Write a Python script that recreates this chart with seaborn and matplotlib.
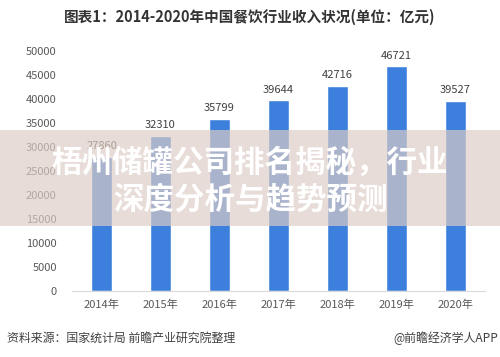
import matplotlib
matplotlib.use('Agg')
import matplotlib.pyplot as plt
from matplotlib.patches import Rectangle
import seaborn as sns

# data
years = ['2014年', '2015年', '2016年', '2017年', '2018年', '2019年', '2020年']
revenue = [27860, 32310, 35799, 39644, 42716, 46721, 39527]
yticks = [0, 5000, 10000, 15000, 20000, 25000, 30000, 35000, 40000, 45000, 50000]

title = '图表1：2014-2020年中国餐饮行业收入状况(单位：亿元)'
source = '资料来源：国家统计局 前瞻产业研究院整理'
credit = '@前瞻经济学人APP'
banner = ['梧州储罐公司排名揭秘，行业', '深度分析与趋势预测']

sns.set_style('white')
plt.rcParams['font.family'] = ['Noto Sans CJK SC', 'DejaVu Sans']

fig = plt.figure(figsize=(5, 3.57), dpi=100)
ax = fig.add_axes([0.144, 0.185, 0.826, 0.6735])

sns.barplot(x=years, y=revenue, color='#3d7fdc', saturation=1, width=0.34, ax=ax)
ax.bar_label(ax.containers[0], padding=4, fontsize=8, color='#404040')

ax.set_ylim(0, 50000)
ax.set_yticks(yticks)
ax.set_yticklabels([str(v) for v in yticks])
ax.set_xlim(-0.5, 6.5)
ax.tick_params(axis='both', length=0, labelsize=8, colors='#595959')
ax.tick_params(axis='y', pad=11)
ax.tick_params(axis='x', pad=6)
ax.set_xlabel('')
ax.set_ylabel('')
for s in ['top', 'right', 'left']:
    ax.spines[s].set_visible(False)
ax.spines['bottom'].set_color('#d9d9d9')

fig.text(0.5, 1 - 17 / 357, title, ha='center', va='center', fontsize=10.5,
         fontweight='bold', color='#333333')
fig.text(0.014, 1 - 338 / 357, source, ha='left', va='center', fontsize=8.6, color='#404040')
fig.text(0.996, 1 - 338 / 357, credit, ha='right', va='center', fontsize=8.6, color='#404040')

# overlay banner
fig.add_artist(Rectangle((0, 1 - 226 / 357), 1, 96 / 357, transform=fig.transFigure,
                         facecolor=(221 / 255, 204 / 255, 197 / 255), alpha=0.68,
                         edgecolor='none', zorder=5))
fig.text(0.5, 1 - 163 / 357, banner[0], ha='center', va='center', fontsize=22,
         fontweight='bold', color='white', zorder=6)
fig.text(0.5, 1 - 200 / 357, banner[1], ha='center', va='center', fontsize=22,
         fontweight='bold', color='white', zorder=6)

fig.savefig('out.png', dpi=100)
